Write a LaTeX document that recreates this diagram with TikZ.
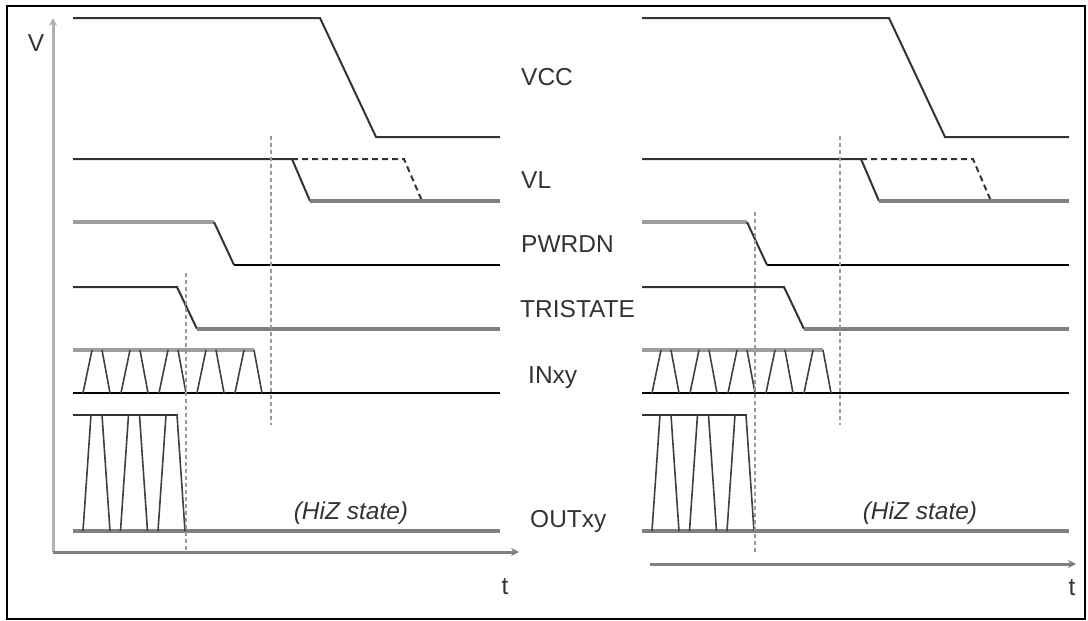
\documentclass[tikz,border=0pt]{standalone}
\usepackage{fontspec}
\setmainfont{Liberation Sans}
\usepackage{tikz}
\usetikzlibrary{arrows.meta}
\tikzset{
  sig/.style={draw=black!80, line width=2pt},
  siglow/.style={draw=black!50, line width=4.5pt},
  sigpale/.style={draw=black!38, line width=4pt},
  sigblack/.style={draw=black, line width=2.5pt},
  edge/.style={draw=black!75, line width=1.6pt},
  marker/.style={draw=black!40, line width=1.8pt, dash pattern=on 4pt off 3pt},
  axis/.style={line width=3pt, -{Stealth[length=8pt,width=8pt]}},
  lbl/.style={anchor=base west, inner sep=0pt, text=black!80, font=\fontsize{24.5}{26}\selectfont},
  hiz/.style={inner sep=0pt, text=black!80, font=\fontsize{24.5}{26}\selectfont\itshape},
}

\begin{document}
\begin{tikzpicture}[x=1pt, y=-1pt]
  \useasboundingbox (0,0) rectangle (1088,621);
  \draw[line width=2pt] (7,6) rectangle (1085,619);

  % axes
  \draw[axis, black!30] (53,552) -- (53,18);
  \draw[axis, black!50] (53,552) -- (519,552);
  \draw[axis, black!50] (650,564) -- (1076,564);
  \node[hiz, font=\fontsize{24.5}{26}\selectfont] (vlab) at (36,43) {V};
  \node[hiz, font=\fontsize{24.5}{26}\selectfont] (tleft) at (505,587) {t};
  \node[hiz, font=\fontsize{24.5}{26}\selectfont] (tright) at (1072,588) {t};

  % signal names
  \node[lbl] (vcc) at (521,85) {VCC};
  \node[lbl] (vl) at (521,188) {VL};
  \node[lbl] (pwrdn) at (521,252) {PWRDN};
  \node[lbl] (tristate) at (520,317) {TRISTATE};
  \node[lbl] (inxy) at (528,383) {INxy};
  \node[lbl] (outxy) at (530,527) {OUTxy};

  \foreach \dx/\pw/\ts/\mk in {0/214/177/273, 569/178/215/212} {
    \begin{scope}[xshift=\dx]
      % VCC
      \draw[sig] (73,18) -- (320,18) -- (376,137) -- (500,137);
      % VL
      \draw[sig, dash pattern=on 6pt off 4pt] (292,159) -- (404,159) -- (422,201);
      \draw[sig] (73,159) -- (292,159) -- (310,201);
      \draw[siglow] (310,201) -- (500,201);
      % PWRDN
      \draw[sigpale] (73,222) -- (\pw,222);
      \draw[sig] (\pw,222) -- ({\pw+20},265);
      \draw[sigblack] ({\pw+20},265) -- (500,265);
      % TRISTATE
      \draw[sig] (73,287) -- (\ts,287) -- ({\ts+20},329);
      \draw[siglow] ({\ts+20},329) -- (500,329);
      % INxy
      \draw[sigpale] (73,350) -- (254,350);
      \draw[sigblack] (73,393) -- (500,393);
      \foreach \i in {0,...,4} {
        \draw[edge] ({83+38*\i},393) -- ({92+38*\i},350);
        \draw[edge] ({102+38*\i},350) -- ({110+38*\i},393);
      }
      % OUTxy
      \draw[sig] (73,415) -- (178,415);
      \draw[siglow] (73,531) -- (500,531);
      \foreach \i in {0,1,2} {
        \draw[edge] ({83+37.5*\i},531) -- ({91+37.5*\i},415);
        \draw[edge] ({102+37.5*\i},415) -- ({110+37.5*\i},531);
      }
      \node[hiz] (hiz\dx) at (351,513) {(HiZ state)};
      % timing markers
      \draw[marker] (271,136) -- (271,425);
      \draw[marker] (186,\mk) -- (186,553);
    \end{scope}
  }
\end{tikzpicture}
\end{document}
